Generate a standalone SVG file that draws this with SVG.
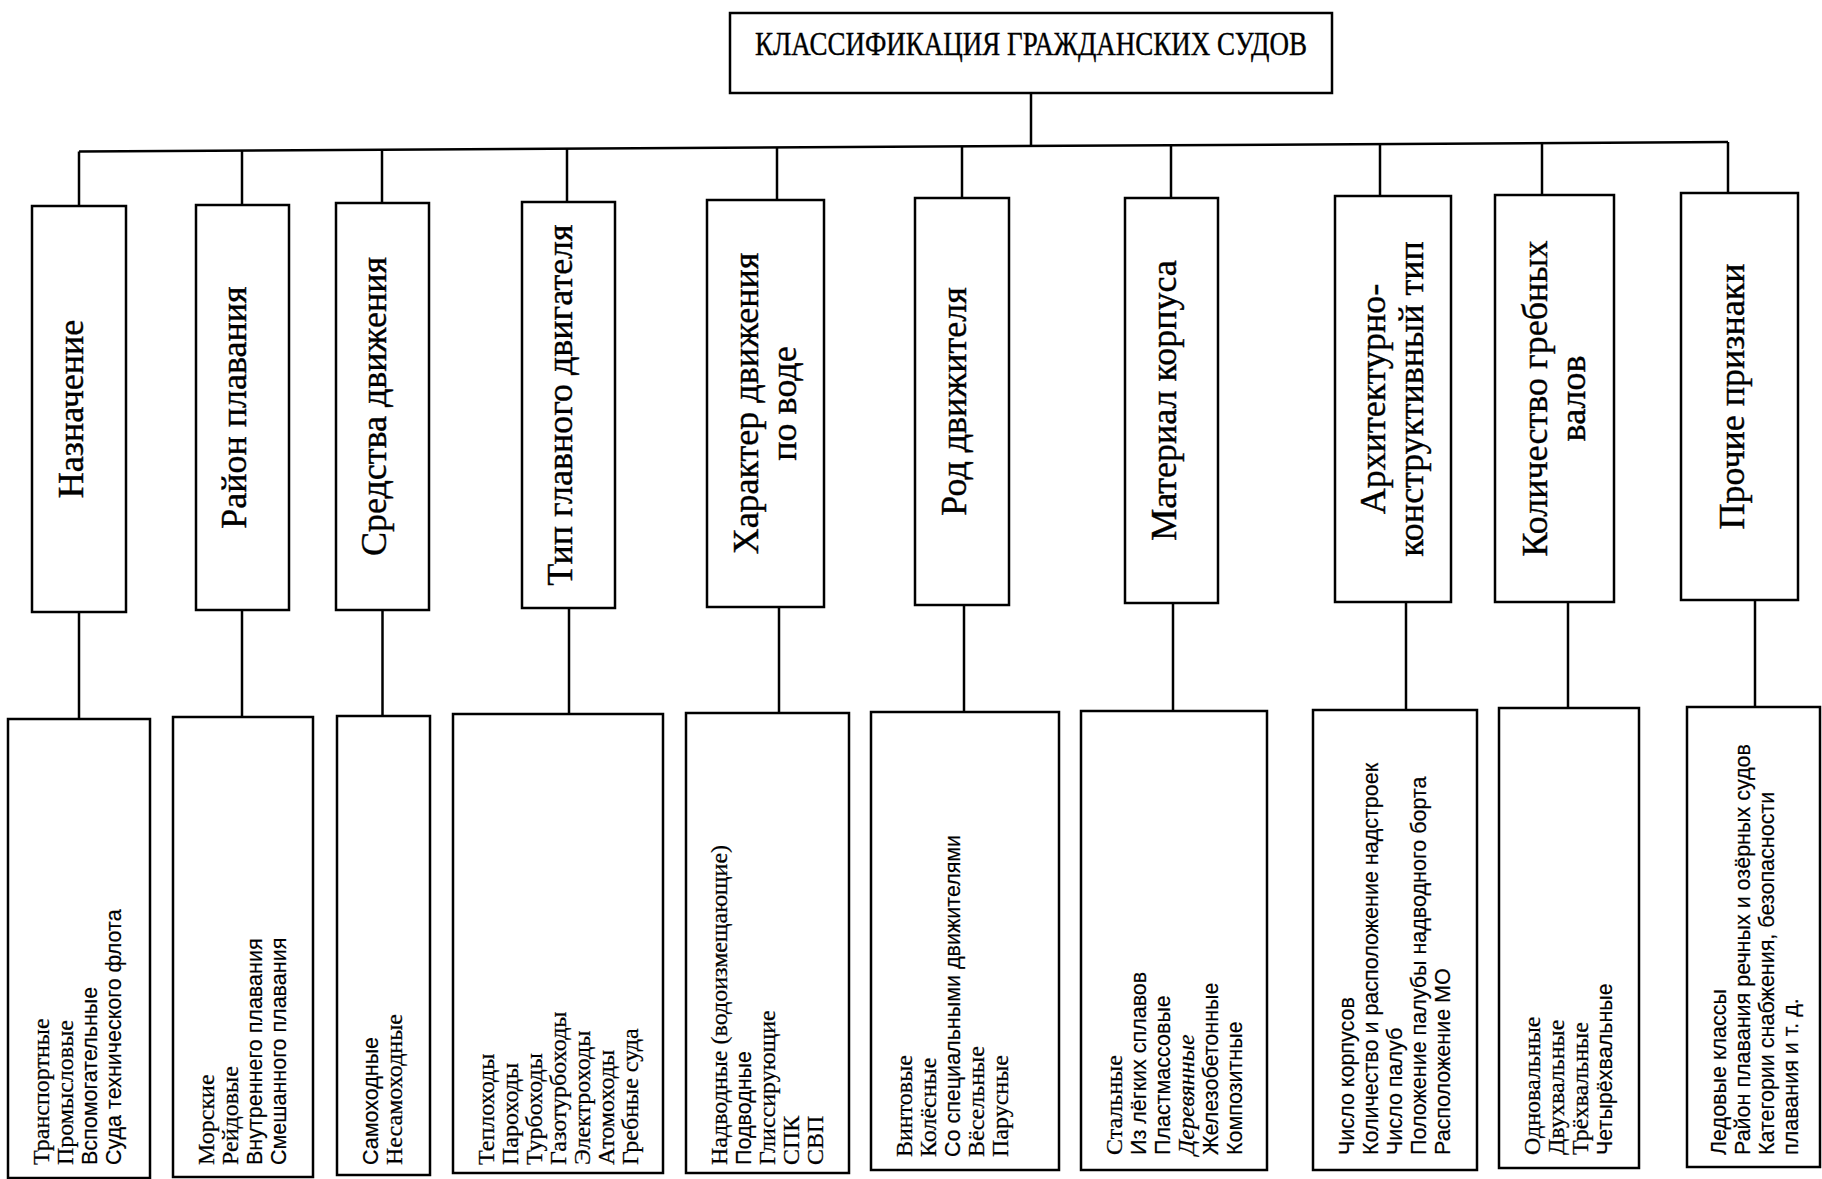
<svg xmlns="http://www.w3.org/2000/svg" width="1822" height="1179" viewBox="0 0 1822 1179">
<style>
  rect { fill: #fff; stroke: #000; stroke-width: 2.5; }
  .c line, .c path { stroke: #000; stroke-width: 2.5; fill: none; }
  text { fill: #000; }
  .t0 { font-family: "Liberation Serif", "Times New Roman", serif; font-size: 33px; stroke: #000; stroke-width: 0.4; }
  .l1 { font-family: "Liberation Serif", "Times New Roman", serif; font-size: 36px; text-anchor: middle; stroke: #000; stroke-width: 0.4; }
  .s { font-family: "Liberation Serif", "Times New Roman", serif; font-size: 24px; stroke: #000; stroke-width: 0.25; }
  .a { font-family: "Liberation Sans", Arial, sans-serif; font-size: 21.5px; stroke: #000; stroke-width: 0.2; }
</style>

<g class="c" id="connectors">
  <line x1="1031" y1="93" x2="1031" y2="146"/>
  <path d="M79,151.5 L1728,142"/>
  <line x1="79" y1="151.5" x2="79" y2="206"/>
  <line x1="242" y1="150.5" x2="242" y2="205"/>
  <line x1="382" y1="149.7" x2="382" y2="203"/>
  <line x1="567" y1="148.7" x2="567" y2="202"/>
  <line x1="777" y1="147.5" x2="777" y2="200"/>
  <line x1="962" y1="146.4" x2="962" y2="198"/>
  <line x1="1171" y1="145.2" x2="1171" y2="198"/>
  <line x1="1380" y1="144" x2="1380" y2="196"/>
  <line x1="1542" y1="143" x2="1542" y2="195"/>
  <line x1="1728" y1="142" x2="1728" y2="193"/>
  <line x1="79" y1="612" x2="79" y2="719"/>
  <line x1="242" y1="610" x2="242" y2="717"/>
  <line x1="382.5" y1="610" x2="382.5" y2="716"/>
  <line x1="569" y1="608" x2="569" y2="714"/>
  <line x1="779" y1="607" x2="779" y2="713"/>
  <line x1="964" y1="605" x2="964" y2="712"/>
  <line x1="1173" y1="603" x2="1173" y2="711"/>
  <line x1="1406" y1="602" x2="1406" y2="710"/>
  <line x1="1568" y1="602" x2="1568" y2="708"/>
  <line x1="1755" y1="600" x2="1755" y2="707"/>
</g>

<g id="root">
  <rect x="730" y="13" width="602" height="80"/>
  <text class="t0" x="755" y="55" textLength="552" lengthAdjust="spacingAndGlyphs">КЛАССИФИКАЦИЯ ГРАЖДАНСКИХ СУДОВ</text>
</g>

<g id="n1">
  <rect x="32" y="206" width="94" height="406"/>
  <text class="l1" transform="translate(83,409) rotate(-90)">Назначение</text>
</g>
<g id="n2">
  <rect x="196" y="205" width="93" height="405"/>
  <text class="l1" transform="translate(246,407.5) rotate(-90)">Район плавания</text>
</g>
<g id="n3">
  <rect x="336" y="203" width="93" height="407"/>
  <text class="l1" transform="translate(386,406.5) rotate(-90)">Средства движения</text>
</g>
<g id="n4">
  <rect x="522" y="202" width="93" height="406"/>
  <text class="l1" transform="translate(572,405) rotate(-90)">Тип главного двигателя</text>
</g>
<g id="n5">
  <rect x="707" y="200" width="117" height="407"/>
  <text class="l1" transform="translate(758,403.5) rotate(-90)">Характер движения</text>
  <text class="l1" transform="translate(796,403.5) rotate(-90)">по воде</text>
</g>
<g id="n6">
  <rect x="915" y="198" width="94" height="407"/>
  <text class="l1" transform="translate(966,401.5) rotate(-90)">Род движителя</text>
</g>
<g id="n7">
  <rect x="1125" y="198" width="93" height="405"/>
  <text class="l1" transform="translate(1175.5,400.5) rotate(-90)">Материал корпуса</text>
</g>
<g id="n8">
  <rect x="1335" y="196" width="116" height="406"/>
  <text class="l1" transform="translate(1385,399) rotate(-90)">Архитектурно-</text>
  <text class="l1" transform="translate(1423,399) rotate(-90)">конструктивный тип</text>
</g>
<g id="n9">
  <rect x="1495" y="195" width="119" height="407"/>
  <text class="l1" transform="translate(1547,398.5) rotate(-90)">Количество гребных</text>
  <text class="l1" transform="translate(1585,398.5) rotate(-90)">валов</text>
</g>
<g id="n10">
  <rect x="1681" y="193" width="117" height="407"/>
  <text class="l1" transform="translate(1743.5,396.5) rotate(-90)">Прочие признаки</text>
</g>

<g id="d1">
  <rect x="8" y="719" width="142" height="459"/>
  <g transform="translate(49,1165) rotate(-90)">
    <text class="s" x="0" y="0">Транспортные</text>
    <text class="s" x="0" y="24">Промысловые</text>
    <text class="a" x="0" y="48">Вспомогательные</text>
    <text class="a" x="0" y="72">Суда технического флота</text>
  </g>
</g>
<g id="d2">
  <rect x="173" y="717" width="140" height="460"/>
  <g transform="translate(214,1165) rotate(-90)">
    <text class="s" x="0" y="0">Морские</text>
    <text class="s" x="0" y="24">Рейдовые</text>
    <text class="a" x="0" y="48">Внутреннего плавания</text>
    <text class="a" x="0" y="72">Смешанного плавания</text>
  </g>
</g>
<g id="d3">
  <rect x="337" y="716" width="93" height="459"/>
  <g transform="translate(378,1165) rotate(-90)">
    <text class="a" x="0" y="0">Самоходные</text>
    <text class="s" x="0" y="24">Несамоходные</text>
  </g>
</g>
<g id="d4">
  <rect x="453" y="714" width="210" height="459"/>
  <g transform="translate(494,1165) rotate(-90)">
    <text class="s" x="0" y="0">Теплоходы</text>
    <text class="s" x="0" y="24">Пароходы</text>
    <text class="s" x="0" y="48">Турбоходы</text>
    <text class="s" x="0" y="72">Газотурбоходы</text>
    <text class="s" x="0" y="96">Электроходы</text>
    <text class="s" x="0" y="120">Атомоходы</text>
    <text class="s" x="0" y="144">Гребные суда</text>
  </g>
</g>
<g id="d5">
  <rect x="686" y="713" width="163" height="460"/>
  <g transform="translate(727,1165) rotate(-90)">
    <text class="s" x="0" y="0">Надводные (водоизмещающие)</text>
    <text class="a" x="0" y="24">Подводные</text>
    <text class="s" x="0" y="48">Глиссирующие</text>
    <text class="s" x="0" y="72">СПК</text>
    <text class="s" x="0" y="96">СВП</text>
  </g>
</g>
<g id="d6">
  <rect x="871" y="712" width="188" height="458"/>
  <g transform="translate(912,1157) rotate(-90)">
    <text class="s" x="0" y="0">Винтовые</text>
    <text class="s" x="0" y="24">Колёсные</text>
    <text class="a" x="0" y="48">Со специальными движителями</text>
    <text class="s" x="0" y="72">Вёсельные</text>
    <text class="s" x="0" y="96">Парусные</text>
  </g>
</g>
<g id="d7">
  <rect x="1081" y="711" width="186" height="459"/>
  <g transform="translate(1122,1155) rotate(-90)">
    <text class="s" x="0" y="0">Стальные</text>
    <text class="a" x="0" y="24">Из лёгких сплавов</text>
    <text class="a" x="0" y="48">Пластмассовые</text>
    <text class="s" x="0" y="72" font-style="italic">Деревянные</text>
    <text class="a" x="0" y="96">Железобетонные</text>
    <text class="a" x="0" y="120">Композитные</text>
  </g>
</g>
<g id="d8">
  <rect x="1313" y="710" width="164" height="460"/>
  <g transform="translate(1354,1155) rotate(-90)">
    <text class="a" x="0" y="0">Число корпусов</text>
    <text class="a" x="0" y="24">Количество и расположение надстроек</text>
    <text class="a" x="0" y="48">Число палуб</text>
    <text class="a" x="0" y="72">Положение палубы надводного борта</text>
    <text class="a" x="0" y="96">Расположение МО</text>
  </g>
</g>
<g id="d9">
  <rect x="1499" y="708" width="140" height="460"/>
  <g transform="translate(1540,1155) rotate(-90)">
    <text class="s" x="0" y="0">Одновальные</text>
    <text class="s" x="0" y="24">Двухвальные</text>
    <text class="s" x="0" y="48">Трёхвальные</text>
    <text class="a" x="0" y="72">Четырёхвальные</text>
  </g>
</g>
<g id="d10">
  <rect x="1687" y="707" width="133" height="460"/>
  <g transform="translate(1726,1155) rotate(-90)">
    <text class="a" x="0" y="0">Ледовые классы</text>
    <text class="a" x="0" y="24">Район плавания речных и озёрных судов</text>
    <text class="a" x="0" y="48">Категории снабжения, безопасности</text>
    <text class="a" x="0" y="72">плавания и т. д.</text>
  </g>
</g>
</svg>
